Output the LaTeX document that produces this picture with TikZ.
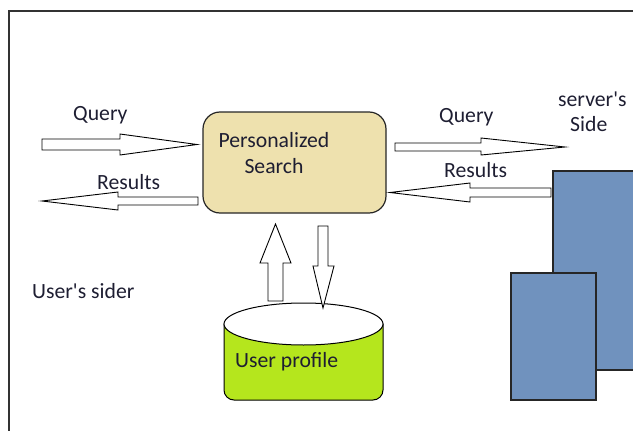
\documentclass[tikz,border=0pt]{standalone}
\usepackage{fontspec}
\setmainfont{Carlito}
\definecolor{boxtan}{HTML}{EEE1AE}
\definecolor{cyllime}{HTML}{B5E61D}
\definecolor{srvblue}{HTML}{7092BE}
\definecolor{txtcol}{HTML}{1E1E32}
\begin{document}
\begin{tikzpicture}[x=1pt,y=-1pt,
  font=\fontsize{21.7}{26}\selectfont,
  lbl/.style={anchor=base west, inner sep=0pt, text=txtcol},
  framel/.style={draw=black!80, line width=1.5pt},
  psbox/.style={draw=black!85, line width=1.2pt, fill=boxtan, rounded corners=17pt, minimum width=183pt, minimum height=101pt, inner sep=0pt},
  srv/.style={draw=black!85, line width=1.2pt, fill=srvblue, inner sep=0pt},
  blk/.style={draw=black, line width=0.9pt, fill=white, line join=miter},
  cylside/.style={draw=black, line width=1pt, fill=cyllime},
  cyltop/.style={draw=black, line width=1pt, fill=white}]
\useasboundingbox (0,0) rectangle (633,431);
% frame
\draw[framel] (9,440) -- (9,11) -- (640,11);
% server rectangles
\node[srv, minimum width=92pt, minimum height=199pt] (srvback) at (599,270.5) {};
\node[srv, minimum width=85pt, minimum height=127pt] (srvfront) at (553.5,336.5) {};
% personalized search box
\node[psbox] (ps) at (294.5,162.5) {};
\node[text=txtcol, align=center, inner sep=0pt, anchor=base] (pstext) at (274,173) {Personalized\\Search};
% cylinder
\path[cylside] (224,324) -- (224,390) arc[start angle=180, end angle=270, radius=10pt] -- (373,400) arc[start angle=270, end angle=360, radius=10pt] -- (383,324) -- cycle;
\draw[cyltop] (303.5,324) ellipse[x radius=79.5pt, y radius=21pt];
\node[lbl] (uptext) at (235,367) {User profile};
% horizontal arrows
\draw[blk] (42,139) -- (120,139) -- (120,134) -- (197,144.5) -- (120,155) -- (120,150) -- (42,150) -- cycle;
\draw[blk] (198,197) -- (118,197) -- (118,192) -- (42,201) -- (118,210) -- (118,205) -- (198,205) -- cycle;
\draw[blk] (395,143) -- (481,143) -- (481,138) -- (565,147) -- (481,155) -- (481,151) -- (395,151) -- cycle;
\draw[blk] (551,188) -- (470,188) -- (470,183) -- (390,192.5) -- (470,202) -- (470,197) -- (551,197) -- cycle;
% vertical arrows
\draw[blk] (268,301) -- (268,263) -- (260,263) -- (275.5,224) -- (291,263) -- (283,263) -- (283,301) -- cycle;
\draw[blk] (318,226) -- (328,226) -- (328,266) -- (334,266) -- (323,308) -- (313,266) -- (318,266) -- cycle;
% labels
\node[lbl] (q1) at (73,120) {Query};
\node[lbl] (r1) at (97,189) {Results};
\node[lbl] (q2) at (439,122) {Query};
\node[lbl] (r2) at (444,177) {Results};
\node[lbl] (sv1) at (558,106) {server\textquotesingle s};
\node[lbl] (sv2) at (570,131) {Side};
\node[lbl] (us) at (32,298) {User\textquotesingle s sider};
\end{tikzpicture}
\end{document}
